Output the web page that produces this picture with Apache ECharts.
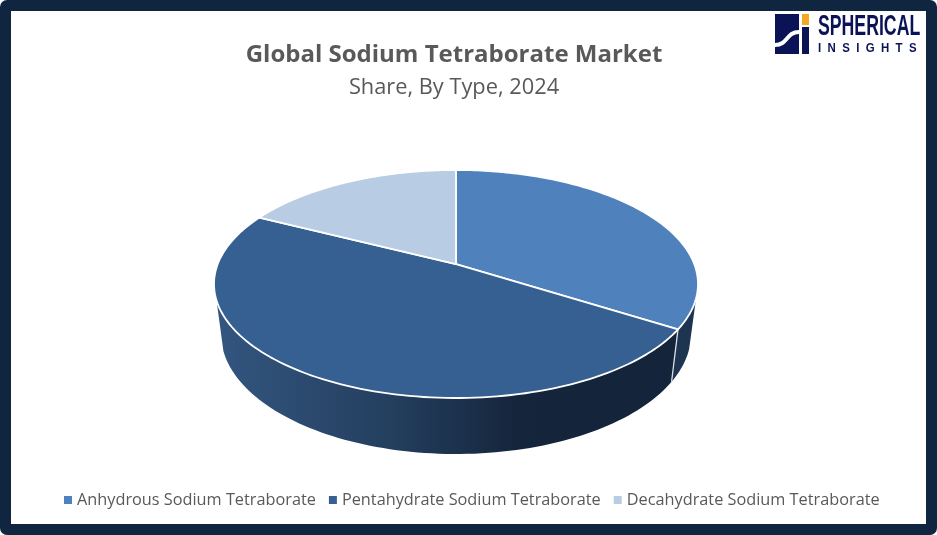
<!DOCTYPE html>
<html>
<head>
<meta charset="utf-8">
<style>
html, body { margin: 0; padding: 0; background: #fff; }
#chart { width: 937px; height: 535px; }
</style>
<script src="https://cdn.jsdelivr.net/npm/echarts@6/dist/echarts.min.js"></script>
</head>
<body>
<div id="chart"></div>
<script>
const categories = ['Anhydrous Sodium Tetraborate', 'Pentahydrate Sodium Tetraborate', 'Decahydrate Sodium Tetraborate'];
const shares = [34, 48.5, 17.5];
const colors = ['#4f81bd', '#376092', '#b8cce4'];

// top face and bottom rim of the disc, apex sits above the ellipse centre
const topFace = { cx: 456, cy: 284, rx: 242, ry: 114 };
const rim = { cx: 456, cy: 334, rx: 235, ry: 120 };
const tilt = -0.175;
const wallStart = 0.12;
const total = shares.reduce((a, b) => a + b, 0);

function project(angle, e) {
    const u = Math.sin(angle);
    const v = -Math.cos(angle);
    const d = 1 + tilt * v;
    return [
        e.cx + e.rx * u * Math.sqrt(1 - tilt * tilt) / d,
        e.cy + e.ry * (v + tilt) / d,
    ];
}

function frontFacing(angle) {
    const v = -Math.cos(angle);
    return (v + tilt) / (1 + tilt * v) >= wallStart;
}

const wallFills = [
    '#1d3550',
    {
        type: 'linear', global: true, x: 216, y: 0, x2: 600, y2: 0,
        colorStops: [
            { offset: 0, color: '#33567f' },
            { offset: 0.45, color: '#243f5f' },
            { offset: 0.78, color: '#15263c' },
            { offset: 1, color: '#14243a' },
        ],
    },
    '#14243a',
];

function renderSlice(index) {
    return (params, api) => {
        const before = shares.slice(0, index).reduce((a, b) => a + b, 0);
        const start = before / total * Math.PI * 2;
        const end = (before + api.value(0)) / total * Math.PI * 2;
        const apex = [topFace.cx, topFace.cy + topFace.ry * tilt];
        const arc = [];
        const steps = 120;
        for (let i = 0; i <= steps; i++) arc.push(start + (end - start) * i / steps);

        const front = arc.filter(frontFacing);
        const children = [];
        if (front.length > 1) {
            children.push({
                type: 'polygon',
                z2: 1,
                shape: { points: front.map(a => project(a, topFace)).concat(front.slice().reverse().map(a => project(a, rim))) },
                style: { fill: wallFills[index], stroke: null },
            });
        }
        if (index === 0) {
            const a = project(end, topFace);
            const b = project(end, rim);
            children.push({
                type: 'line',
                z2: 2,
                shape: { x1: a[0], y1: a[1], x2: b[0], y2: b[1] },
                style: { stroke: '#d9dee6', lineWidth: 1.3 },
            });
        }
        children.push({
            type: 'polygon',
            z2: 3,
            shape: { points: [apex].concat(arc.map(a => project(a, topFace))) },
            style: { fill: colors[index], stroke: '#fff', lineWidth: 1.8, lineJoin: 'round' },
        });
        return { type: 'group', children };
    };
}

const series = categories.map((name, i) => ({
    name,
    type: 'custom',
    coordinateSystem: 'none',
    silent: true,
    animation: false,
    itemStyle: { color: colors[i] },
    data: [[shares[i]]],
    renderItem: renderSlice(i),
}));

const logoNavy = '#0b1357';

const options = {
    animation: false,
    backgroundColor: '#fff',
    title: {
        text: 'Global Sodium Tetraborate Market',
        subtext: 'Share, By Type, 2024',
        left: 449,
        top: 38,
        textAlign: 'center',
        itemGap: 10,
        textStyle: { fontFamily: 'Open Sans', fontSize: 24, fontWeight: 'bold', color: '#595959' },
        subtextStyle: { fontFamily: 'Open Sans', fontSize: 21.8, color: '#595959' },
    },
    legend: {
        data: categories,
        left: 59,
        top: 487,
        icon: 'rect',
        itemWidth: 8,
        itemHeight: 8,
        itemGap: 13,
        textStyle: { fontFamily: 'Open Sans', fontSize: 16.3, color: '#595959' },
        selectedMode: false,
    },
    graphic: [
        { type: 'rect', shape: { x: 0, y: 0, width: 937, height: 535, r: 7 }, style: { fill: '#10253f' }, z: -10 },
        { type: 'rect', shape: { x: 11, y: 11, width: 915, height: 513 }, style: { fill: '#fff' }, z: -9 },
        { type: 'rect', shape: { x: 775, y: 14, width: 24, height: 40 }, style: { fill: logoNavy }, z: 1 },
        { type: 'rect', shape: { x: 802, y: 27, width: 7, height: 27 }, style: { fill: logoNavy }, z: 1 },
        { type: 'rect', shape: { x: 802, y: 14, width: 7, height: 11 }, style: { fill: '#f5a623' }, z: 1 },
        {
            type: 'bezierCurve',
            shape: { x1: 775, y1: 45, x2: 799, y2: 32, cpx1: 788, cpy1: 45, cpx2: 786, cpy2: 32 },
            style: { stroke: '#fff', lineWidth: 4, fill: null },
            z: 2,
        },
        {
            type: 'text', x: 818, y: 12, scaleX: 0.61, z: 2,
            style: { text: 'SPHERICAL', fontFamily: 'Liberation Sans', fontWeight: 'bold', fontSize: 29, fill: logoNavy },
        },
        {
            type: 'text', x: 818, y: 42, scaleX: 0.88, z: 2,
            style: { text: 'I  N  S  I  G  H  T  S', fontFamily: 'Liberation Sans', fontWeight: 'bold', fontSize: 13, fill: logoNavy },
        },
    ],
    series,
};

const chart = echarts.init(document.getElementById('chart'), null, { renderer: 'canvas' });
chart.setOption(options);
</script>
</body>
</html>
